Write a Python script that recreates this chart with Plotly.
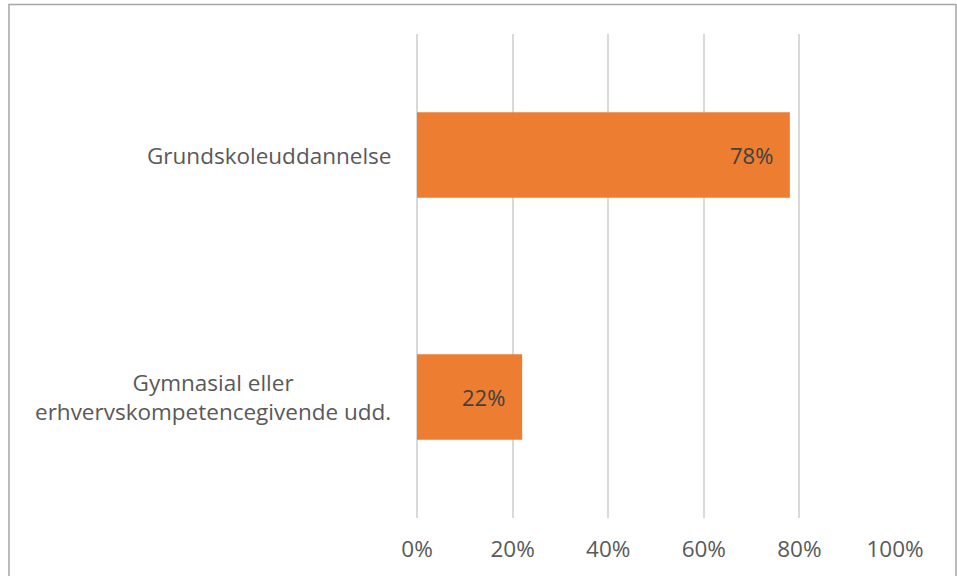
import plotly.graph_objects as go

categories = ["Grundskoleuddannelse", "Gymnasial eller<br>erhvervskompetencegivende udd."]
values = [78, 22]
x_ticks = [0, 20, 40, 60, 80, 100]
x_tick_labels = ["0%", "20%", "40%", "60%", "80%", "100%"]

font_family = "Open Sans"
text_gray = "#595959"

fig = go.Figure()
fig.add_trace(
    go.Bar(
        y=categories,
        x=values,
        orientation="h",
        marker=dict(color="#ED7D31", line=dict(width=0)),
        width=0.354,
        hoverinfo="skip",
    )
)

# value labels, inset from the bar end
for c, v in zip(categories, values):
    fig.add_annotation(
        x=v, y=c, xref="x", yref="y",
        text=f"{v}%", showarrow=False,
        xanchor="right", xshift=-15,
        font=dict(family=font_family, size=22, color="#404040"),
    )

# category labels drawn as annotations so the two lines stay centred
for c in categories:
    fig.add_annotation(
        x=0, xref="paper", xshift=-24,
        y=c, yref="y",
        text=c, showarrow=False,
        xanchor="right", align="center",
        font=dict(family=font_family, size=22.5, color=text_gray),
    )

# chart border
fig.add_shape(
    type="rect", xref="paper", yref="paper",
    x0=-0.8536, x1=1.1276, y0=-0.2, y1=1.0607,
    line=dict(color="#A6A6A6", width=1.5), fillcolor="rgba(0,0,0,0)",
)

fig.update_xaxes(
    range=[0, 100],
    tickvals=x_ticks,
    ticktext=x_tick_labels,
    showgrid=True,
    gridcolor="#D9D9D9",
    gridwidth=2,
    zeroline=True,
    zerolinecolor="#D9D9D9",
    zerolinewidth=2,
    ticks="",
    ticklabelstandoff=15,
    tickfont=dict(family=font_family, size=22.5, color=text_gray),
    fixedrange=True,
)
fig.update_yaxes(
    categoryorder="array",
    categoryarray=categories[::-1],
    showticklabels=False,
    showgrid=False,
    zeroline=False,
    fixedrange=True,
)
fig.update_layout(
    width=957,
    height=576,
    margin=dict(l=417, r=62, t=34, b=56),
    plot_bgcolor="white",
    paper_bgcolor="white",
    showlegend=False,
    bargap=0.646,
)

fig.write_html(
    "out.html",
    config={"displayModeBar": False},
    post_script="document.body.style.margin='0';",
)
